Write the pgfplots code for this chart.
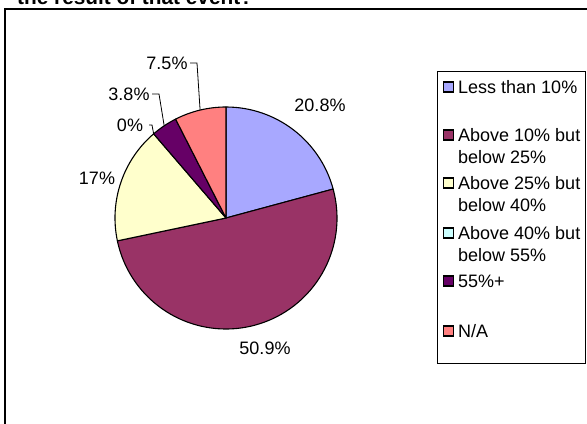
\documentclass[border=0pt]{standalone}
\usepackage{fontspec}
\setmainfont{Liberation Sans}
\usepackage{pgfplots}
\pgfplotsset{compat=1.18}
\usepackage{pgfplotstable}

\definecolor{sliceA}{HTML}{A8A8FF}
\definecolor{sliceB}{HTML}{993366}
\definecolor{sliceC}{HTML}{FFFFCC}
\definecolor{sliceD}{HTML}{CCFFFF}
\definecolor{sliceE}{HTML}{660066}
\definecolor{sliceF}{HTML}{FF8080}

% share in percent; label centre (lx,ly); leader start x and elbow x (0 = no leader)
\pgfplotstableread{
share lx  ly  sx  ex
20.8  320 319 0   0
50.9  265 76  0   0
17.0  97  246 0   0
0.0   130 299 149 152
3.8   129 330 152 159
7.5   167 361 190 197
}\pietable

\newcommand\chartfont{\fontsize{18bp}{21.6bp}\selectfont}
\newcommand\pcx{226}
\newcommand\pcy{206}
\newcommand\pr{111}

\begin{document}
\begin{tikzpicture}
\useasboundingbox (0,0) rectangle (587bp,424bp);
\clip (0,0) rectangle (587bp,424bp);
\begin{axis}[x=1bp, y=1bp, xmin=0, xmax=587, ymin=0, ymax=424,
  hide axis, at={(0,0)}, anchor=south west, clip=false]
\pgfplotsextra{%
  % chart area frame and title
  \draw[line width=2bp] (axis cs:5.3,-20) -- (axis cs:5.3,414.5) -- (axis cs:620,414.5);
  \node[anchor=base west, inner sep=0pt, font=\fontsize{20.8bp}{25bp}\selectfont\bfseries]
    at (axis cs:17,419) {the result of that event?};
  % pie slices, clockwise from twelve o'clock
  \gdef\piecum{0}%
  \foreach \i/\col in {0/sliceA,1/sliceB,2/sliceC,3/sliceD,4/sliceE,5/sliceF}{%
    \pgfplotstablegetelem{\i}{share}\of\pietable \let\sliceval\pgfplotsretval
    \pgfmathsetmacro\aS{90-3.6*\piecum}%
    \pgfmathsetmacro\aE{90-3.6*(\piecum+\sliceval)}%
    \pgfmathsetmacro\px{\pcx+\pr*cos(\aS)}%
    \pgfmathsetmacro\py{\pcy+\pr*sin(\aS)}%
    \ifdim\sliceval pt>0pt
      \fill[fill=\col, draw=black, line width=1.1bp, line join=round]
        (axis cs:\pcx,\pcy) -- (axis cs:\px,\py)
        arc[start angle=\aS, end angle=\aE, radius=\pr bp] -- cycle;
    \fi
    \pgfmathsetmacro\newcum{\piecum+\sliceval}%
    \xdef\piecum{\newcum}%
  }%
  % data labels with leader lines
  \gdef\piecum{0}%
  \foreach \i in {0,...,5}{%
    \pgfplotstablegetelem{\i}{share}\of\pietable \let\sliceval\pgfplotsretval
    \pgfplotstablegetelem{\i}{lx}\of\pietable \let\lx\pgfplotsretval
    \pgfplotstablegetelem{\i}{ly}\of\pietable \let\ly\pgfplotsretval
    \pgfplotstablegetelem{\i}{sx}\of\pietable \let\sx\pgfplotsretval
    \pgfplotstablegetelem{\i}{ex}\of\pietable \let\ex\pgfplotsretval
    \pgfmathsetmacro\am{90-3.6*(\piecum+\sliceval/2)}%
    \pgfmathsetmacro\mx{\pcx+\pr*cos(\am)}%
    \pgfmathsetmacro\my{\pcy+\pr*sin(\am)}%
    \pgfmathsetmacro\lby{\ly-6.4}%
    \node[anchor=base, inner sep=0pt, font=\chartfont] at (axis cs:\lx,\lby)
      {\pgfmathprintnumber[fixed, precision=1, assume math mode=true]{\sliceval}\%};
    \ifdim\ex pt>0pt
      \draw[line width=0.8bp] (axis cs:\sx,\ly) -- (axis cs:\ex,\ly) -- (axis cs:\mx,\my);
    \fi
    \pgfmathsetmacro\newcum{\piecum+\sliceval}%
    \xdef\piecum{\newcum}%
  }%
  % legend
  \draw[line width=0.9bp, fill=white] (axis cs:437,61) rectangle (axis cs:585,353);
  \foreach \yy/\col/\la/\lb in {87/sliceA/{Less than 10\%}/{},
      135/sliceB/{Above 10\% but}/{below 25\%},
      183/sliceC/{Above 25\% but}/{below 40\%},
      233/sliceD/{Above 40\% but}/{below 55\%},
      281/sliceE/{55\%+}/{},
      331/sliceF/{N/A}/{}}{%
    \pgfmathsetmacro\my{424-\yy}%
    \pgfmathsetmacro\ba{424-\yy-6.4}%
    \pgfmathsetmacro\bb{424-\yy-6.4-22}%
    \fill[fill=\col, draw=black, line width=1.2bp]
      (axis cs:443.5,\my-5) rectangle (axis cs:453.5,\my+5);
    \node[anchor=base west, inner sep=0pt, font=\chartfont] at (axis cs:458,\ba) {\la};
    \node[anchor=base west, inner sep=0pt, font=\chartfont] at (axis cs:458,\bb) {\lb};
  }%
}
\end{axis}
\end{tikzpicture}
\end{document}
